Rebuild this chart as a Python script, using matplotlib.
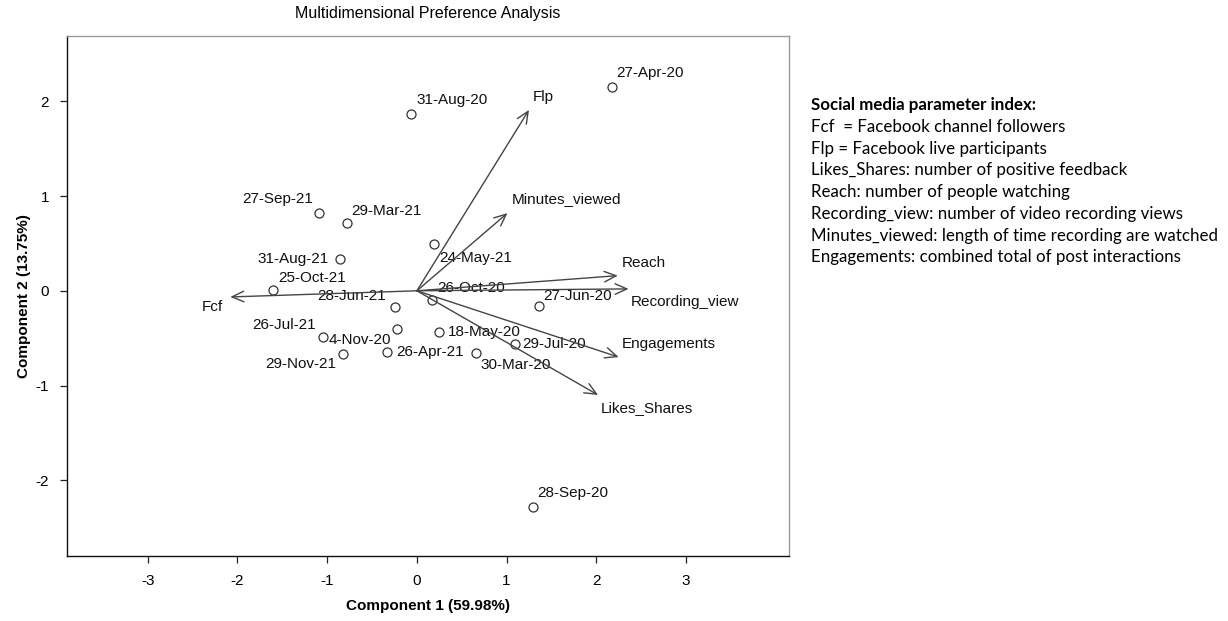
import matplotlib
matplotlib.use("Agg")
import matplotlib.pyplot as plt

plt.rcParams["axes.unicode_minus"] = False

# observation scores (component 1, component 2)
dates = ["27-Apr-20", "31-Aug-20", "27-Sep-21", "29-Mar-21", "24-May-21",
         "31-Aug-21", "25-Oct-21", "28-Jun-21", "26-Oct-20", "27-Jun-20",
         "26-Jul-21", "4-Nov-20", "29-Nov-21", "26-Apr-21", "18-May-20",
         "30-Mar-20", "29-Jul-20", "28-Sep-20"]
comp1 = [2.18, -0.06, -1.09, -0.78, 0.19, -0.86, -1.60, -0.24, 0.17, 1.36,
         -1.05, -0.22, -0.82, -0.33, 0.25, 0.66, 1.09, 1.29]
comp2 = [2.15, 1.87, 0.82, 0.72, 0.49, 0.34, 0.01, -0.17, -0.10, -0.16,
         -0.49, -0.40, -0.67, -0.65, -0.43, -0.66, -0.56, -2.28]

# parameter vectors
params = ["Fcf", "Flp", "Minutes_viewed", "Reach", "Recording_view",
          "Engagements", "Likes_Shares"]
vec1 = [-2.08, 1.25, 1.01, 2.24, 2.36, 2.25, 2.02]
vec2 = [-0.065, 1.91, 0.82, 0.16, 0.02, -0.70, -1.10]

index_title = "Social media parameter index:"
index_lines = ["Fcf  = Facebook channel followers",
               "Flp = Facebook live participants",
               "Likes_Shares: number of positive feedback",
               "Reach: number of people watching",
               "Recording_view: number of video recording views",
               "Minutes_viewed: length of time recording are watched",
               "Engagements: combined total of post interactions"]

# label placement (pixel offsets, horizontal alignment)
date_pos = [(4, 14, "left"), (5, 14, "left"), (-6, 14, "right"), (4, 12, "left"),
            (5, -14, "left"), (-11, 0, "right"), (5, 12, "left"), (-9, 11, "right"),
            (5, 12, "left"), (4, 10, "left"), (-7, 12, "right"), (-6, -11, "right"),
            (-7, -10, "right"), (9, 0, "left"), (9, 0, "left"), (4, -12, "left"),
            (8, 0, "left"), (5, 14, "left")]
param_pos = [(-7, -10, "right"), (4, 13, "left"), (4, 14, "left"), (4, 13, "left"),
             (2, -13, "left"), (3, 13, "left"), (3, -13, "left")]

plot_font = ["Liberation Sans", "DejaVu Sans"]

fig = plt.figure(figsize=(12.28, 6.21), dpi=100)
ax = fig.add_axes([0.0546, 0.1047, 0.588, 0.8373])

ax.plot(comp1, comp2, linestyle="none", marker="o", markersize=6.5,
        markerfacecolor="white", markeredgecolor="#333333", markeredgewidth=0.9)
for lab, x, y, (dx, dy, ha) in zip(dates, comp1, comp2, date_pos):
    ax.annotate(lab, (x, y), xytext=(dx, dy), textcoords="offset pixels",
                ha=ha, va="center", fontsize=11, family=plot_font, color="#111111")

for lab, x, y, (dx, dy, ha) in zip(params, vec1, vec2, param_pos):
    ax.annotate("", xy=(x, y), xytext=(0, 0),
                arrowprops=dict(arrowstyle="->,head_length=0.85,head_width=0.38",
                                mutation_scale=10, color="#444444", lw=1.0,
                                shrinkA=0, shrinkB=0))
    ax.annotate(lab, (x, y), xytext=(dx, dy), textcoords="offset pixels",
                ha=ha, va="center", fontsize=11, family=plot_font, color="#111111")

ax.set_xlim(-3.9, 4.15)
ax.set_ylim(-2.8, 2.69)
ax.set_xticks([-3, -2, -1, 0, 1, 2, 3])
ax.set_yticks([-2, -1, 0, 1, 2])
ax.tick_params(direction="out", length=5, width=0.9, color="#222222",
               labelsize=11, pad=8)
for t in ax.get_xticklabels() + ax.get_yticklabels():
    t.set_family(plot_font)
for s in ["left", "bottom"]:
    ax.spines[s].set_color("#111111")
    ax.spines[s].set_linewidth(1.0)
for s in ["top", "right"]:
    ax.spines[s].set_color("#999999")
    ax.spines[s].set_linewidth(1.0)

ax.set_title("Multidimensional Preference Analysis", fontsize=11.5,
             family=plot_font, pad=13)
ax.set_xlabel("Component 1 (59.98%)", fontsize=11, fontweight="bold",
              family=plot_font, labelpad=8)
ax.set_ylabel("Component 2 (13.75%)", fontsize=11, fontweight="bold",
              family=plot_font, labelpad=3)

# parameter index text at the right
fig.text(811 / 1228, 1 - 105 / 621, index_title, fontsize=12.2, fontweight="bold",
         family=["Lato", "DejaVu Sans"], va="center", ha="left")
for i, line in enumerate(index_lines):
    fig.text(811 / 1228, 1 - (127 + 21.7 * i) / 621, line, fontsize=12.2,
             family=["Lato", "DejaVu Sans"], va="center", ha="left")

fig.savefig("out.png", dpi=100)
